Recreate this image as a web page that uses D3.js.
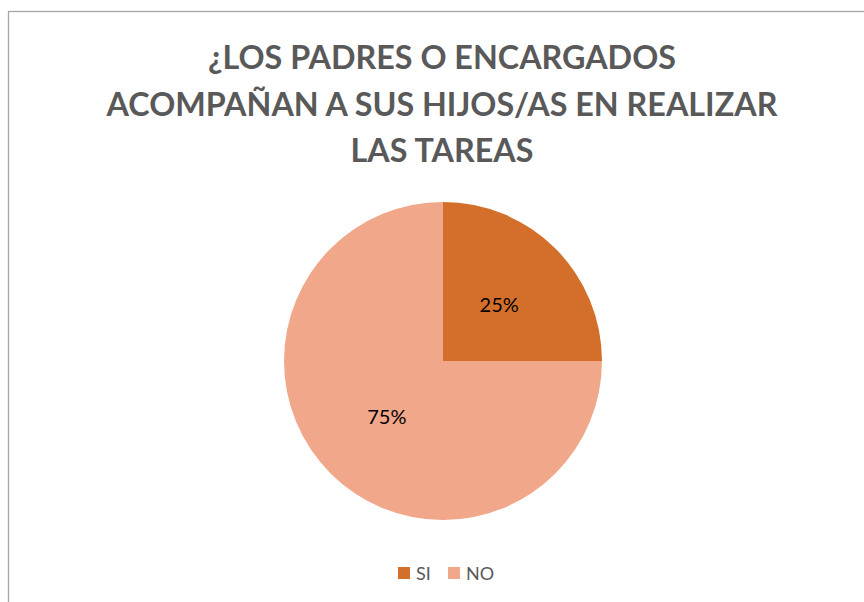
<!DOCTYPE html>
<html><head><meta charset="utf-8">
<script src="https://cdn.jsdelivr.net/npm/d3@7"></script>
<style>body{margin:0;background:#fff}svg{display:block}</style>
</head><body>
<svg id="c" width="864" height="602"></svg>
<script>
const titleLines = ["¿LOS PADRES O ENCARGADOS", "ACOMPAÑAN A SUS HIJOS/AS EN REALIZAR", "LAS TAREAS"];
const categories = ["SI", "NO"];
const values = [25, 75];
const colors = ["#D46F2B", "#F1A78A"];

const svg = d3.select("#c");
svg.append("rect").attr("x", 8.5).attr("y", 11.5).attr("width", 1000).attr("height", 1000)
  .attr("fill", "#fff").attr("stroke", "#a6a6a6").attr("stroke-width", 1.3);

const font = "Lato, 'Open Sans', sans-serif";
const title = svg.append("g");
const baselines = [69, 116, 162];
titleLines.forEach((t, i) => {
  title.append("text").attr("x", 442).attr("y", baselines[i]).attr("text-anchor", "middle")
    .attr("font-family", font).attr("font-weight", "bold").attr("font-size", 31)
    .attr("fill", "#595959").text(t);
});
// fit title width to reference (~671px for longest line)
const longest = title.selectAll("text").nodes()[1];
const w = longest.getComputedTextLength();
const fs = 31 * 671 / w;
title.selectAll("text").attr("font-size", fs);

const cx = 443, cy = 361, r = 159;
const pie = d3.pie().sort(null).value(d => d)(values);
const arc = d3.arc().innerRadius(0).outerRadius(r);
const g = svg.append("g").attr("transform", `translate(${cx},${cy})`);
g.selectAll("path").data(pie).join("path").attr("d", arc).attr("fill", (d, i) => colors[i]);
g.selectAll("text").data(pie).join("text")
  .attr("transform", d => `translate(${arc.centroid(d)})`)
  .attr("text-anchor", "middle").attr("dy", "0.35em")
  .attr("font-family", font).attr("font-size", 20).attr("fill", "#000")
  .text(d => d.data + "%");

const legend = svg.append("g");
const items = [{x: 398, tx: 416}, {x: 448, tx: 466}];
categories.forEach((c, i) => {
  legend.append("rect").attr("x", items[i].x).attr("y", 567).attr("width", 12).attr("height", 12).attr("fill", colors[i]);
  legend.append("text").attr("x", items[i].tx).attr("y", 579.5).attr("font-family", font)
    .attr("font-size", 18).attr("fill", "#595959").text(c);
});
</script>
</body></html>
